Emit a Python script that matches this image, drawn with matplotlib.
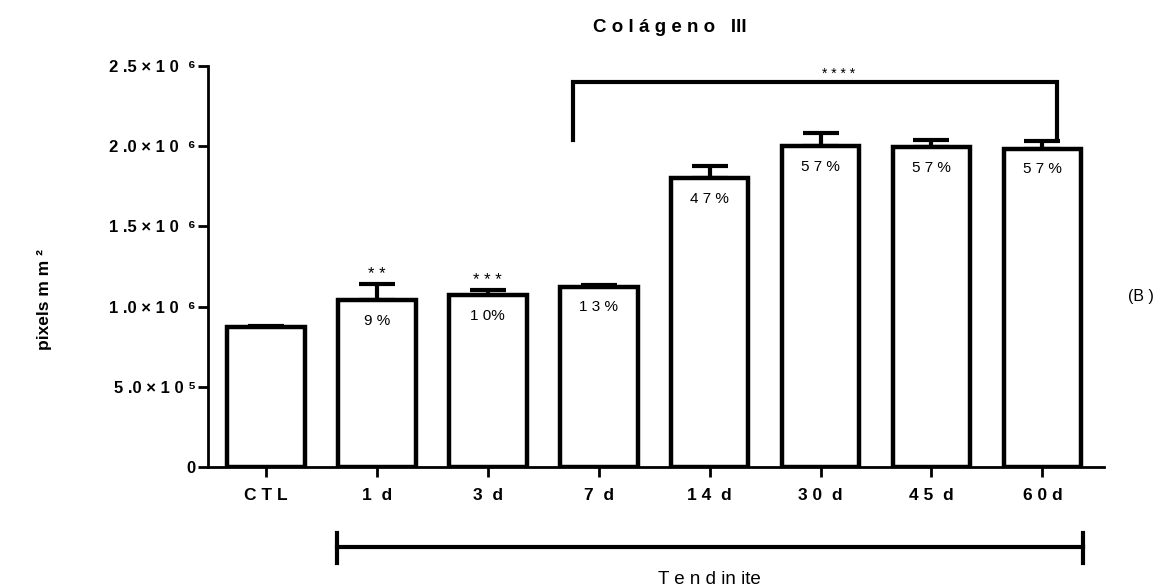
import matplotlib
matplotlib.use('Agg')
import matplotlib.pyplot as plt
import numpy as np

plt.rcParams['font.family'] = ['Liberation Sans', 'DejaVu Sans']

# dados
grupos = ['C T L', '1  d', '3  d', '7  d', '1 4  d', '3 0  d', '4 5  d', '6 0 d']
medias = [0.87e6, 1.04e6, 1.07e6, 1.125e6, 1.80e6, 2.00e6, 1.995e6, 1.985e6]
erros = [0.012e6, 0.10e6, 0.035e6, 0.01e6, 0.075e6, 0.08e6, 0.045e6, 0.045e6]
percentuais = ['', '9 %', '1 0%', '1 3 %', '4 7 %', '5 7 %', '5 7 %', '5 7 %']
asteriscos = ['', '* *', '* * *', '', '', '', '', '']
yticks = [0, 0.5e6, 1.0e6, 1.5e6, 2.0e6, 2.5e6]
ytick_labels = ['0', '5 .0 × 1 0 ⁵', '1 .0 × 1 0  ⁶', '1 .5 × 1 0  ⁶',
                '2 .0 × 1 0  ⁶', '2 .5 × 1 0  ⁶']

fig = plt.figure(figsize=(11.7, 5.87), dpi=100)
ax = fig.add_axes([0.178, 0.2044, 0.766, 0.6832])

x = np.arange(len(grupos))
ax.errorbar(x, medias, yerr=[np.zeros(len(erros)), erros], fmt='none',
            ecolor='black', elinewidth=3, capsize=13, capthick=3, zorder=1)
ax.bar(x, medias, width=0.7, color='white', edgecolor='black', linewidth=3.2, zorder=2)

for i in range(len(grupos)):
  if percentuais[i]:
    ax.text(x[i], medias[i] - 0.13e6, percentuais[i], ha='center', va='center', fontsize=11)
  if asteriscos[i]:
    ax.text(x[i], medias[i] + erros[i] + 0.06e6, asteriscos[i], ha='center', va='center', fontsize=12)

# colchete ****
ax.plot([2.77, 2.77, 7.13, 7.13], [2.04e6, 2.40e6, 2.40e6, 2.04e6], color='black', lw=3,
        clip_on=False, solid_joinstyle='miter')
ax.text(5.16, 2.45e6, '* * * *', ha='center', va='center', fontsize=10)

ax.set_xlim(-0.52, 7.56)
ax.set_ylim(0, 2.5e6)
ax.set_xticks(x)
ax.set_xticklabels(grupos, fontsize=12.5, fontweight='bold')
ax.set_yticks(yticks)
ax.set_yticklabels(ytick_labels, fontsize=12, fontweight='bold')
ax.tick_params(axis='both', width=2, length=7, direction='out')
ax.tick_params(axis='x', pad=8)
ax.tick_params(axis='y', pad=2)
for s in ['top', 'right']:
  ax.spines[s].set_visible(False)
for s in ['left', 'bottom']:
  ax.spines[s].set_linewidth(2)

fig.text(0.5726, 0.953, 'C o l á g e n o   III', ha='center', va='center',
         fontsize=13.5, fontweight='bold')
fig.text(0.038, 0.49, 'pixels m m ²', rotation=90, ha='center', va='center',
         fontsize=12.5, fontweight='bold')
fig.text(0.975, 0.495, '(B )', ha='center', va='center', fontsize=11.5)

# linha da tendinite
trans = ax.get_xaxis_transform()
ax.plot([0.64, 7.37], [-0.2, -0.2], color='black', lw=3, transform=trans, clip_on=False)
for xe in [0.64, 7.37]:
  ax.plot([xe, xe], [-0.165, -0.24], color='black', lw=3, transform=trans, clip_on=False)
ax.text(4.0, -0.28, 'T e n d in ite', ha='center', va='center', fontsize=13.5, transform=trans)

fig.savefig('out.png', dpi=100)
